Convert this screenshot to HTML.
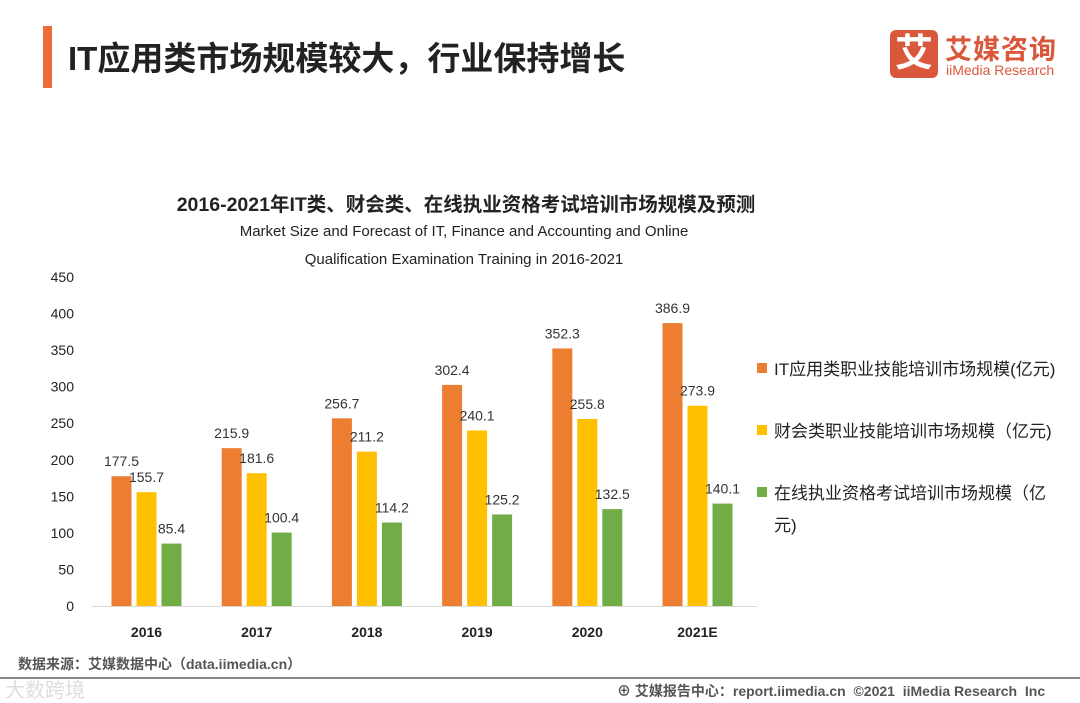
<!DOCTYPE html>
<html><head><meta charset="utf-8"><style>
body{margin:0;width:1080px;height:702px;background:#fff;overflow:hidden;position:relative;font-family:"Liberation Sans","Noto Sans CJK SC",sans-serif}
.a{position:absolute;white-space:nowrap}
</style></head><body>
<div class="a" style="left:43px;top:26px;width:9px;height:62px;background:#ec6b37"></div>
<div class="a" style="left:68px;top:32px;font-size:33px;font-weight:bold;color:#222">IT应用类市场规模较大，行业保持增长</div>
<div class="a" style="left:890px;top:30px;width:48px;height:48px;background:#d9573a;border-radius:6px;color:#fff;font-size:38px;font-weight:bold;text-align:center;line-height:48px">艾</div>
<div class="a" style="left:945px;top:28px;font-size:27px;font-weight:bold;color:#d9573a;letter-spacing:1px">艾媒咨询</div>
<div class="a" style="left:946px;top:62px;font-size:14px;color:#d9573a">iiMedia Research</div>
<div class="a" style="left:0;width:932px;text-align:center;top:188px;font-size:19.5px;font-weight:bold;color:#222">2016-2021年IT类、财会类、在线执业资格考试培训市场规模及预测</div>
<div class="a" style="left:0;width:928px;text-align:center;top:218px;font-size:15px;line-height:28px;color:#222;white-space:normal">Market Size and Forecast of IT, Finance and Accounting and Online<br>Qualification Examination Training in 2016-2021</div>
<svg id="c" class="a" style="left:0;top:0" width="1080" height="702"></svg>
<div class="a" style="left:18px;top:654px;font-size:14px;font-weight:bold;color:#555">数据来源：艾媒数据中心（data.iimedia.cn）</div>
<div class="a" style="left:0;top:677px;width:1080px;height:2px;background:#888"></div>
<div class="a" style="left:5px;top:674px;font-size:20px;color:#ddd">大数跨境</div>
<div class="a" style="left:617px;top:681px;font-size:14px;font-weight:bold;color:#555">⊕ 艾媒报告中心：report.iimedia.cn &nbsp;©2021 &nbsp;iiMedia Research &nbsp;Inc</div>
<script>
const categories=["2016","2017","2018","2019","2020","2021E"];
const itValues=[177.5,215.9,256.7,302.4,352.3,386.9];
const financeValues=[155.7,181.6,211.2,240.1,255.8,273.9];
const onlineValues=[85.4,100.4,114.2,125.2,132.5,140.1];
const yTicks=[0,50,100,150,200,250,300,350,400,450];
const seriesNames=["IT应用类职业技能培训市场规模(亿元)","财会类职业技能培训市场规模（亿元)","在线执业资格考试培训市场规模（亿元)"];
const colors=["#ed7d31","#ffc000","#70ad47"];
const svg=document.getElementById('c');const NS='http://www.w3.org/2000/svg';
const y=v=>606-v*(329/450);
const xc=i=>147.5+i*110.2;
function mk(t,a,txt){const e=document.createElementNS(NS,t);for(const k in a)e.setAttribute(k,a[k]);if(txt!=null)e.textContent=txt;svg.appendChild(e);return e;}
yTicks.forEach(t=>{const e=mk('text',{x:74,y:y(t)+5,'text-anchor':'end','font-size':14,fill:'#222'},t);

});
const ax=mk('line',{x1:92,x2:757,y1:606.5,y2:606.5,stroke:'#d9d9d9'});


[itValues,financeValues,onlineValues].forEach((vals,s)=>{
vals.forEach((v,i)=>{const x0=xc(i)-36+s*25;
const r=mk('rect',{x:x0,y:y(v),width:20,height:606-y(v),fill:colors[s]});


const l=mk('text',{x:x0+10,y:y(v)-10,'text-anchor':'middle','font-size':14,fill:'#333'},v.toFixed(1));

});});
categories.forEach((c,i)=>{const e=mk('text',{x:xc(i)-1,y:637,'text-anchor':'middle','font-size':14,'font-weight':'bold',fill:'#222'},c);

});
const ly=[369,431,493];
seriesNames.forEach((n,s)=>{const r=mk('rect',{x:757,y:ly[s]-6,width:10,height:10,fill:colors[s]});


let txt=n;if(s==2){const t2=mk('text',{x:774,y:ly[s]+38,'font-size':17,fill:'#222'},'元)');txt='在线执业资格考试培训市场规模（亿';}
const t=mk('text',{x:774,y:ly[s]+6,'font-size':17,fill:'#222'},txt);

});
</script>
</body></html>
